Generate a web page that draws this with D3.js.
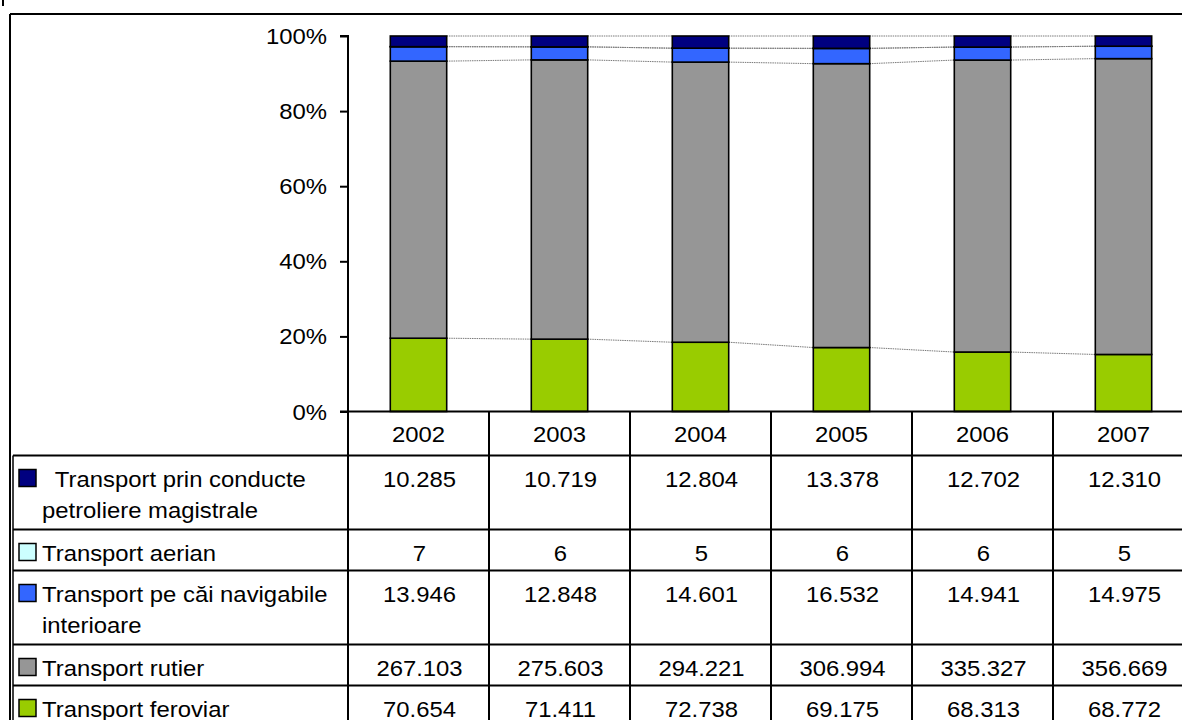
<!DOCTYPE html>
<html>
<head>
<meta charset="utf-8">
<script src="https://cdn.jsdelivr.net/npm/d3@7"></script>
<style>
  html, body { margin: 0; padding: 0; background: #fff; }
  svg { display: block; font-family: "Liberation Sans", Arial, sans-serif; }
  text { white-space: pre; }
</style>
</head>
<body>
<svg id="chart" width="1182" height="720"></svg>
<script>
// Freight transport by mode, 2002-2007 (thousand tonnes)
const years = ["2002", "2003", "2004", "2005", "2006", "2007"];
const seriesNames = [
  " Transport prin conducte petroliere magistrale",
  "Transport aerian",
  "Transport pe căi navigabile interioare",
  "Transport rutier",
  "Transport feroviar"
];
const seriesKeys = ["conducte", "aerian", "navigabile", "rutier", "feroviar"];
const conducte   = [10285, 10719, 12804, 13378, 12702, 12310];
const aerian     = [7, 6, 5, 6, 6, 5];
const navigabile = [13946, 12848, 14601, 16532, 14941, 14975];
const rutier     = [267103, 275603, 294221, 306994, 335327, 356669];
const feroviar   = [70654, 71411, 72738, 69175, 68313, 68772];
const seriesColors = ["#000080", "#CCFFFF", "#3366FF", "#969696", "#99CC00"];
const yTicks = [0, 0.2, 0.4, 0.6, 0.8, 1];

const valuesByKey = { conducte, aerian, navigabile, rutier, feroviar };

// rows for d3.stack, one per year
const rows = years.map((yr, i) => {
  const r = { year: yr };
  seriesKeys.forEach(k => r[k] = valuesByKey[k][i]);
  return r;
});
// stacking from the bottom: feroviar first, conducte on top
const stackOrder = seriesKeys.slice().reverse();
const stacked = d3.stack().keys(stackOrder).offset(d3.stackOffsetExpand)(rows);

const svg = d3.select("#chart");
const FONT = 21.5, SX = 1.11; // glyphs are drawn slightly wide

const x = d3.scaleBand().domain(years).range([348, 1194]).paddingInner(0).paddingOuter(0);
const y = d3.scaleLinear().domain([0, 1]).range([411.5, 36]);
const barW = x.bandwidth() * 0.4;
const barX = yr => x(yr) + (x.bandwidth() - barW) / 2;
const color = d3.scaleOrdinal().domain(seriesKeys).range(seriesColors);

function wideText(sel, tx, ty, str, anchor) {
  return sel.append("text")
    .attr("transform", `translate(${tx},${ty}) scale(${SX},1)`)
    .attr("text-anchor", anchor || "start")
    .attr("font-size", FONT)
    .attr("fill", "#000")
    .text(str);
}

// outer frame
svg.append("line").attr("x1", 10).attr("x2", 1182).attr("y1", 14).attr("y2", 14)
  .attr("stroke", "#000").attr("stroke-width", 2);
svg.append("line").attr("x1", 10).attr("x2", 10).attr("y1", 14).attr("y2", 720)
  .attr("stroke", "#000").attr("stroke-width", 2);
svg.append("rect").attr("x", 2).attr("y", 0).attr("width", 2).attr("height", 6).attr("fill", "#000");

// series lines between adjacent columns
const seriesLineG = svg.append("g");
stacked.forEach(layer => {
  for (let i = 0; i < years.length - 1; i++) {
    seriesLineG.append("line")
      .attr("x1", barX(years[i]) + barW).attr("y1", y(layer[i][1]))
      .attr("x2", barX(years[i + 1])).attr("y2", y(layer[i + 1][1]))
      .attr("stroke", "#7a7a7a").attr("stroke-width", 1)
      .attr("stroke-dasharray", "1.5,0.8");
  }
});

// stacked columns
svg.append("g").selectAll("g").data(stacked).join("g")
  .attr("fill", d => color(d.key))
  .selectAll("rect").data(d => d).join("rect")
    .attr("x", d => barX(d.data.year))
    .attr("y", d => y(d[1]))
    .attr("width", barW)
    .attr("height", d => Math.max(0, y(d[0]) - y(d[1])))
    .attr("stroke", "#000").attr("stroke-width", 1.6);

// y axis
const yAxis = svg.append("g").attr("transform", "translate(348,0)")
  .call(d3.axisLeft(y).tickValues(yTicks).tickFormat(d3.format(".0%")).tickSize(8).tickPadding(13));
yAxis.select(".domain").attr("stroke", "#000").attr("stroke-width", 2).attr("d", "M-8,36H0V411.5");
yAxis.selectAll(".tick line").attr("stroke", "#000").attr("stroke-width", 2);
yAxis.selectAll(".tick text").each(function(d) {
  const t = d3.select(this);
  t.attr("font-size", FONT).attr("fill", "#000").attr("font-family", null)
   .attr("x", null).attr("dy", null)
   .attr("transform", `translate(-21,${7.5}) scale(${SX},1)`);
});
// x axis baseline
svg.append("line").attr("x1", 340).attr("x2", 1182).attr("y1", 411.5).attr("y2", 411.5)
  .attr("stroke", "#000").attr("stroke-width", 2);

// data table
const fmt = d3.formatLocale({ decimal: ",", thousands: ".", grouping: [3], currency: ["", ""] }).format(",");
const tableG = svg.append("g");
const headerTop = y(0), headerH = 44;
years.forEach(yr => wideText(tableG, x(yr) + x.bandwidth() / 2, headerTop + 30, yr, "middle"));

// wrap series labels to the label column width
const maxLabelW = 300;
const measure = svg.append("text").attr("font-size", FONT).attr("visibility", "hidden");
function wrap(str) {
  const words = str.split(" ");
  const lines = [];
  let cur = "";
  words.forEach(w => {
    const test = cur === "" && w === "" ? " " : (cur === "" ? w : cur + " " + w);
    measure.text(test);
    if (measure.node().getComputedTextLength() * SX > maxLabelW && cur.trim() !== "") {
      lines.push(cur);
      cur = w;
    } else cur = test;
  });
  lines.push(cur);
  return lines;
}

let rowTop = headerTop + headerH;
const rowEdges = [rowTop];
seriesKeys.forEach((k, si) => {
  const lines = wrap(seriesNames[si]);
  const h = 41 + (lines.length - 1) * 33;
  // legend key
  tableG.append("rect").attr("x", 19).attr("y", rowTop + 14).attr("width", 17).attr("height", 17)
    .attr("fill", color(k)).attr("stroke", "#000").attr("stroke-width", 1.5);
  lines.forEach((ln, li) => wideText(tableG, 42, rowTop + 31 + li * 31, ln));
  valuesByKey[k].forEach((v, i) =>
    wideText(tableG, x(years[i]) + x.bandwidth() / 2 + 1, rowTop + 31, fmt(v), "middle"));
  rowTop += h;
  rowEdges.push(rowTop);
});
measure.remove();

// table grid
rowEdges.forEach(ry => tableG.append("line").attr("x1", 13).attr("x2", 1182)
  .attr("y1", ry).attr("y2", ry).attr("stroke", "#000").attr("stroke-width", 2));
tableG.append("line").attr("x1", 13).attr("x2", 13).attr("y1", rowEdges[0]).attr("y2", 720)
  .attr("stroke", "#000").attr("stroke-width", 1.5);
years.forEach(yr => tableG.append("line").attr("x1", x(yr)).attr("x2", x(yr))
  .attr("y1", headerTop).attr("y2", 720).attr("stroke", "#000").attr("stroke-width", 2));
</script>
</body>
</html>
